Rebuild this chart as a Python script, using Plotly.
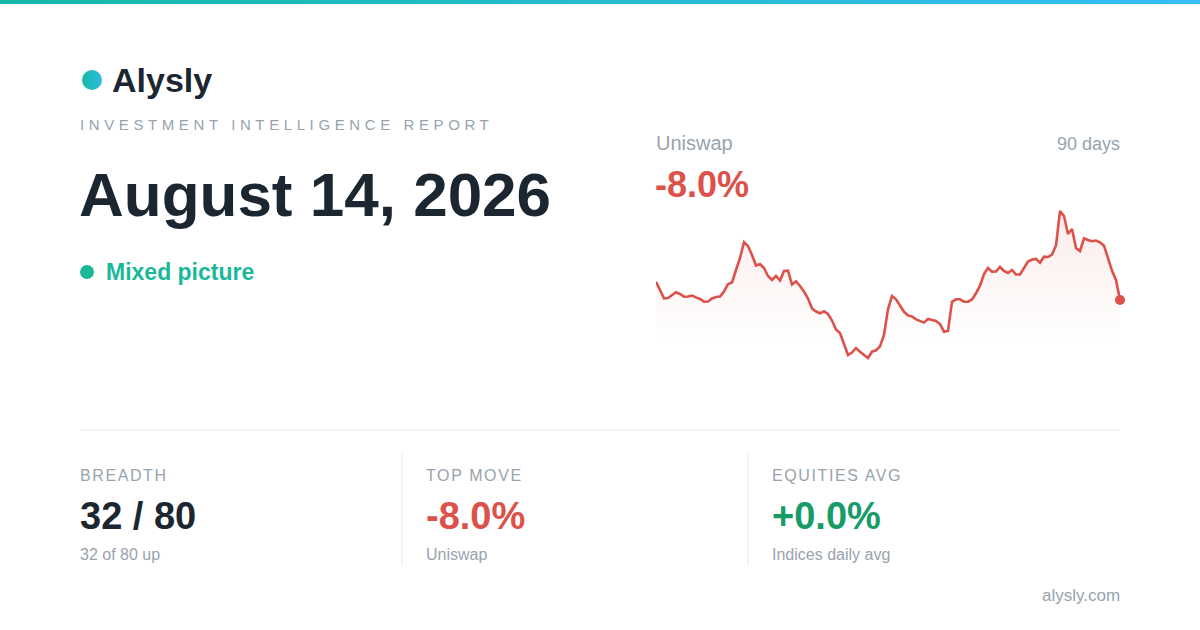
import plotly.graph_objects as go

W, H = 1200, 630
FONT = "Liberation Sans, Arial, sans-serif"
INK = "#1b2630"
GREY = "#98a3ad"
RED = "#dc524b"
GREEN = "#179c69"
TEAL = "#1ab89a"
RULE = "#eef0f2"

# Uniswap, 90-day price path (indexed so that last / first = -8.0%)
uni_price = [
    228.3, 220.0, 211.7, 212.0, 215.0, 217.7, 216.0, 213.3, 213.5, 214.5,
    212.6, 211.0, 208.3, 208.5, 211.5, 213.0, 213.5, 218.5, 226.0, 227.5,
    240.0, 252.0, 267.7, 264.0, 255.0, 244.5, 246.0, 242.0, 234.0, 230.0,
    234.0, 229.5, 239.0, 239.4, 225.5, 228.7, 224.0, 218.5, 211.5, 201.5,
    198.5, 196.7, 198.7, 196.0, 189.5, 180.5, 177.0, 165.0, 155.0, 157.5,
    162.0, 158.3, 154.7, 152.0, 158.3, 159.7, 163.6, 175.0, 201.0, 214.0,
    210.7, 205.0, 198.2, 194.6, 193.5, 190.6, 189.3, 187.4, 191.0, 189.8,
    189.0, 186.0, 178.3, 179.0, 208.2, 210.7, 210.7, 208.3, 208.3, 210.5,
    216.7, 224.3, 236.0, 242.0, 238.4, 238.5, 243.0, 239.0, 237.0, 240.0,
    235.5, 235.5, 242.5, 248.5, 250.5, 251.1, 247.2, 253.3, 253.0, 255.5,
    264.5, 299.0, 294.0, 276.0, 281.0, 262.0, 259.0, 271.7, 270.0, 268.8,
    269.5, 267.7, 264.3, 252.6, 239.3, 230.0, 210.0,
]
days = list(range(len(uni_price)))

asset_name = "Uniswap"
asset_change = "-8.0%"
window_label = "90 days"

stats_labels = ["BREADTH", "TOP MOVE", "EQUITIES AVG"]
stats_values = ["32 / 80", "-8.0%", "+0.0%"]
stats_notes = ["32 of 80 up", "Uniswap", "Indices daily avg"]
stats_colors = [INK, RED, GREEN]


def px(x):
    return x / W


def py(y):
    return 1 - y / H


fig = go.Figure()

# sparkline
fig.add_trace(go.Scatter(
    x=days, y=uni_price, mode="lines",
    line=dict(color=RED, width=2.6),
    fill="tozeroy",
    fillgradient=dict(
        type="vertical", start=165, stop=300,
        colorscale=[[0, "rgba(220,82,75,0)"], [1, "rgba(220,82,75,0.11)"]],
    ),
    hoverinfo="skip",
))
fig.add_trace(go.Scatter(
    x=days[-1:], y=uni_price[-1:], mode="markers",
    marker=dict(color=RED, size=10), cliponaxis=False, hoverinfo="skip",
))

# decorations drawn on a pixel-scaled overlay
fig.add_trace(go.Scatter(
    x=[0, W, W, 0, 0], y=[0, 0, 4, 4, 0], mode="lines", line=dict(width=0),
    fill="toself",
    fillgradient=dict(type="horizontal", colorscale=[[0, "#14b8a6"], [1, "#38bdf8"]]),
    xaxis="x2", yaxis="y2", hoverinfo="skip",
))
fig.add_trace(go.Scatter(
    x=[92], y=[80], mode="markers",
    marker=dict(size=20, color="#16b8a8", gradient=dict(type="horizontal", color="#2fbbe0")),
    xaxis="x2", yaxis="y2", hoverinfo="skip",
))

fig.add_shape(type="circle", xref="x2", yref="y2", x0=80, x1=94, y0=265, y1=279,
              fillcolor=TEAL, line_width=0)
fig.add_shape(type="line", xref="x2", yref="y2", x0=80, x1=1120, y0=430, y1=430,
              line=dict(color=RULE, width=1.5))
for xs in (402, 748):
    fig.add_shape(type="line", xref="x2", yref="y2", x0=xs, x1=xs, y0=452, y1=566,
                  line=dict(color=RULE, width=1.5))


def label(x, y, text, size, color, bold=False, anchor="left", spacing=None):
    if spacing:
        text = f'<span style="letter-spacing:{spacing}px">{text}</span>'
    fig.add_annotation(
        x=px(x), y=py(y), xref="paper", yref="paper", text=text, showarrow=False,
        xanchor=anchor, yanchor="middle", borderpad=0,
        font=dict(family=FONT, size=size, color=color, weight=700 if bold else 400),
    )


label(111, 80, "Alysly", 34, INK, bold=True)
label(79, 125, "INVESTMENT INTELLIGENCE REPORT", 15, GREY, spacing=4.6)
label(78, 194, "August 14, 2026", 62, INK, bold=True)
label(105, 272, "Mixed picture", 23, TEAL, bold=True)

label(655, 143, asset_name, 20, GREY)
label(1121, 144, window_label, 18, GREY, anchor="right")
label(654, 184, asset_change, 36, RED, bold=True)

for i, xs in enumerate((80, 426, 772)):
    label(xs - 1, 475, stats_labels[i], 16, GREY, spacing=1.6)
    label(xs - 1, 516, stats_values[i], 38, stats_colors[i], bold=True)
    label(xs - 1, 554, stats_notes[i], 16, GREY)

label(1121, 595, "alysly.com", 17, GREY, anchor="right")

fig.update_layout(
    width=W, height=H, margin=dict(l=0, r=0, t=0, b=0),
    paper_bgcolor="white", plot_bgcolor="rgba(0,0,0,0)",
    showlegend=False,
    xaxis=dict(domain=[px(656), px(1120)], range=[0, len(uni_price) - 1], visible=False),
    yaxis=dict(domain=[py(380), py(200)], range=[130, 310], visible=False),
    xaxis2=dict(domain=[0, 1], range=[0, W], visible=False, anchor="y2"),
    yaxis2=dict(domain=[0, 1], range=[H, 0], visible=False, anchor="x2"),
)

fig.write_html("out.html", config={"displayModeBar": False},
               post_script="document.body.style.margin='0';")
